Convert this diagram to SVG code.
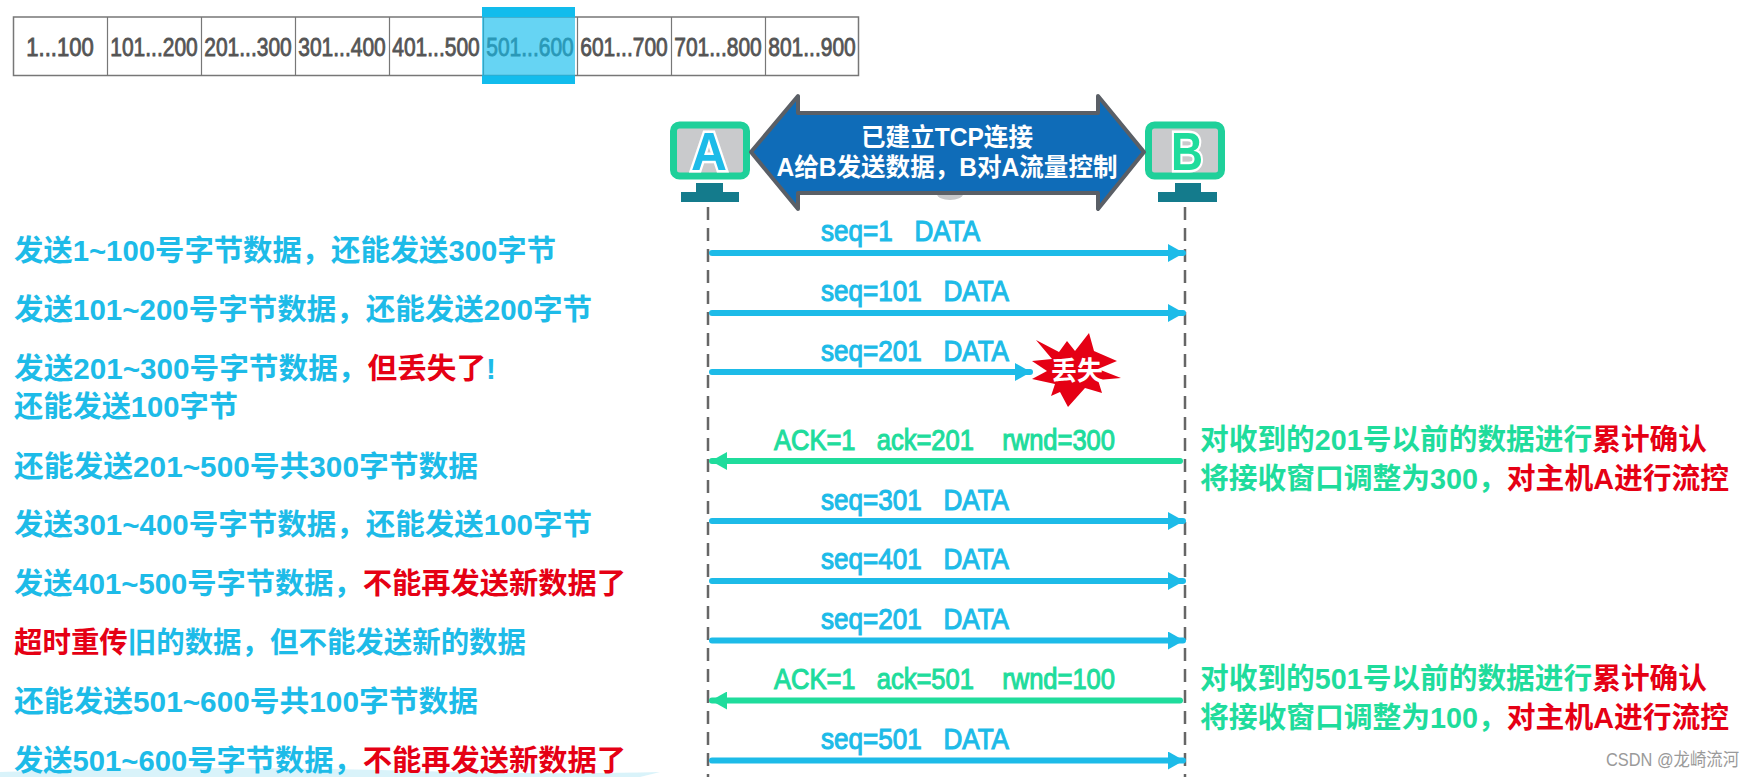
<svg xmlns="http://www.w3.org/2000/svg" width="1756" height="777" viewBox="0 0 1756 777">
<style>
text{font-family:"Liberation Sans","Noto Sans CJK SC",sans-serif;font-weight:700}
.cell{font-size:21px;font-weight:400;fill:#555;stroke:#555;stroke-width:.7px;text-anchor:middle}
.l{font-size:29px}
.b{fill:#1dbbe8}.g{fill:#1fdc9c}.r{fill:#e50014}
.lab{font-size:29px;font-weight:400}
.lab.b{stroke:#1dbbe8;stroke-width:1.1px}
.lab.g{stroke:#1fdc9c;stroke-width:1.1px}
.life{stroke:#666;stroke-width:2.5;stroke-dasharray:13 8;fill:none}
.ab{stroke:#1dbbe8;stroke-width:6;fill:none;stroke-linecap:round}
.ag{stroke:#1fdc9c;stroke-width:6;fill:none;stroke-linecap:round}
.scr{fill:#c9cacc;stroke:#1fd09a;stroke-width:7}
.base{fill:#147b8c}
</style>
<defs>
<marker id="hb" markerUnits="userSpaceOnUse" markerWidth="16" markerHeight="18" refX="15" refY="9" orient="auto"><path d="M0 0L16 9L0 18Z" fill="#1dbbe8"/></marker>
<marker id="hg" markerUnits="userSpaceOnUse" markerWidth="16" markerHeight="18" refX="15" refY="9" orient="auto"><path d="M0 0L16 9L0 18Z" fill="#1fdc9c"/></marker>
</defs>
<rect width="1756" height="777" fill="#fff"/>
<path d="M0 772Q200 765 380 770T660 772L640 777H0Z" fill="#c9eef8" opacity=".7"/>
<g id="table">
<rect x="13.500" y="17" width="845" height="58.500" fill="#fff" stroke="#777" stroke-width="1.500"/>
<path d="M107.500 17v58.500M201.500 17v58.500M295.500 17v58.500M389.500 17v58.500M483.500 17v58.500M577.500 17v58.500M671.500 17v58.500M765.500 17v58.500" stroke="#777" stroke-width="1.200"/>
<text class="cell" transform="translate(60 56) scale(1.050 1.24)">1...100</text>
<text class="cell" transform="translate(154 56) scale(1 1.24)">101...200</text>
<text class="cell" transform="translate(248 56) scale(1 1.24)">201...300</text>
<text class="cell" transform="translate(342 56) scale(1 1.24)">301...400</text>
<text class="cell" transform="translate(436 56) scale(1 1.24)">401...500</text>
<text class="cell" transform="translate(530 56) scale(1 1.24)">501...600</text>
<text class="cell" transform="translate(624 56) scale(1 1.24)">601...700</text>
<text class="cell" transform="translate(718 56) scale(1 1.24)">701...800</text>
<text class="cell" transform="translate(812 56) scale(1 1.24)">801...900</text>
<rect x="482" y="7" width="93" height="77" fill="#14bdec" opacity=".65"/>
<rect x="482" y="7" width="93" height="10" fill="#12bcec"/>
<rect x="482" y="75.500" width="93" height="8.500" fill="#12bcec"/>
</g>
<g id="hostA">
<rect class="scr" x="673.500" y="125" width="73" height="51" rx="6"/>
<path class="base" d="M696 183h27v9h16v10h-58v-10h15z"/>
<text x="709" y="170" font-size="54" text-anchor="middle" fill="#1dbbe8" stroke="#fff" stroke-width="5" paint-order="stroke" textLength="36" lengthAdjust="spacingAndGlyphs">A</text>
</g>
<g id="hostB">
<rect class="scr" x="1148.500" y="125" width="73" height="51" rx="6"/>
<path class="base" d="M1175 183h26v9h16v10h-59v-10h17z"/>
<text x="1187" y="170" font-size="54" text-anchor="middle" fill="#1fdc9c" stroke="#fff" stroke-width="5" paint-order="stroke" textLength="32" lengthAdjust="spacingAndGlyphs">B</text>
</g>
<g id="tcp">
<ellipse cx="950" cy="194" rx="13" ry="6" fill="#c9cacc"/>
<path d="M751 152L798 96V113H1098V96L1144 152L1098 209V193H798V209Z" fill="#0f6cb8" stroke="#5a5f66" stroke-width="4" stroke-linejoin="round"/>
<text x="947" y="146" font-size="25" fill="#fff" text-anchor="middle" textLength="172" lengthAdjust="spacingAndGlyphs">已建立TCP连接</text>
<text x="947" y="176" font-size="25" fill="#fff" text-anchor="middle" textLength="341" lengthAdjust="spacingAndGlyphs">A给B发送数据，B对A流量控制</text>
</g>
<g id="connectors">
<path class="life" d="M708 207V777M1185 207V777"/>
<path class="ab" d="M712 253H1183" marker-end="url(#hb)"/>
<path class="ab" d="M712 313H1183" marker-end="url(#hb)"/>
<path class="ab" d="M712 372H1030" marker-end="url(#hb)"/>
<path class="ag" d="M1180 461H712" marker-end="url(#hg)"/>
<path class="ab" d="M712 521H1183" marker-end="url(#hb)"/>
<path class="ab" d="M712 581H1183" marker-end="url(#hb)"/>
<path class="ab" d="M712 640.500H1183" marker-end="url(#hb)"/>
<path class="ag" d="M1180 700.500H712" marker-end="url(#hg)"/>
<path class="ab" d="M712 760.500H1183" marker-end="url(#hb)"/>
</g>
<g id="lost">
<path d="M1036 340L1059 352L1067 341L1075 351L1089 333L1094 351L1117 361L1098 369L1121 378L1098 380L1102 393L1085 388L1068 407L1060 392L1051 396L1055 384L1032 379L1047 371L1032 361L1052 359Z" fill="#e50014"/>
<text x="1077" y="380" font-size="26" fill="#fff" text-anchor="middle">丢失</text>
</g>
<g id="labels">
<text class="lab b" x="821" y="241" textLength="159" lengthAdjust="spacingAndGlyphs" xml:space="preserve">seq=1   DATA</text>
<text class="lab b" x="821" y="301" textLength="188" lengthAdjust="spacingAndGlyphs" xml:space="preserve">seq=101   DATA</text>
<text class="lab b" x="821" y="361" textLength="188" lengthAdjust="spacingAndGlyphs" xml:space="preserve">seq=201   DATA</text>
<text class="lab g" x="774" y="450" textLength="341" lengthAdjust="spacingAndGlyphs" xml:space="preserve">ACK=1   ack=201    rwnd=300</text>
<text class="lab b" x="821" y="510" textLength="188" lengthAdjust="spacingAndGlyphs" xml:space="preserve">seq=301   DATA</text>
<text class="lab b" x="821" y="569" textLength="188" lengthAdjust="spacingAndGlyphs" xml:space="preserve">seq=401   DATA</text>
<text class="lab b" x="821" y="629" textLength="188" lengthAdjust="spacingAndGlyphs" xml:space="preserve">seq=201   DATA</text>
<text class="lab g" x="774" y="689" textLength="341" lengthAdjust="spacingAndGlyphs" xml:space="preserve">ACK=1   ack=501    rwnd=100</text>
<text class="lab b" x="821" y="749" textLength="188" lengthAdjust="spacingAndGlyphs" xml:space="preserve">seq=501   DATA</text>
</g>
<g id="left-notes" class="l">
<text class="b" x="14" y="261" textLength="542" lengthAdjust="spacingAndGlyphs">发送1~100号字节数据，还能发送300字节</text>
<text class="b" x="14" y="320" textLength="578" lengthAdjust="spacingAndGlyphs">发送101~200号字节数据，还能发送200字节</text>
<text class="b" x="14" y="379" textLength="482" lengthAdjust="spacingAndGlyphs">发送201~300号字节数据，<tspan class="r">但丢失了</tspan>!</text>
<text class="b" x="14" y="417" textLength="224" lengthAdjust="spacingAndGlyphs">还能发送100字节</text>
<text class="b" x="14" y="477" textLength="464" lengthAdjust="spacingAndGlyphs">还能发送201~500号共300字节数据</text>
<text class="b" x="14" y="535" textLength="578" lengthAdjust="spacingAndGlyphs">发送301~400号字节数据，还能发送100字节</text>
<text class="b" x="14" y="594" textLength="612" lengthAdjust="spacingAndGlyphs">发送401~500号字节数据，<tspan class="r">不能再发送新数据了</tspan></text>
<text class="b" x="14" y="653" textLength="512" lengthAdjust="spacingAndGlyphs"><tspan class="r">超时重传</tspan>旧的数据，但不能发送新的数据</text>
<text class="b" x="14" y="712" textLength="464" lengthAdjust="spacingAndGlyphs">还能发送501~600号共100字节数据</text>
<text class="b" x="14" y="771" textLength="612" lengthAdjust="spacingAndGlyphs">发送501~600号字节数据，<tspan class="r">不能再发送新数据了</tspan></text>
</g>
<g id="right-notes" class="l">
<text class="g" x="1200" y="450" textLength="507" lengthAdjust="spacingAndGlyphs">对收到的201号以前的数据进行<tspan class="r">累计确认</tspan></text>
<text class="g" x="1200" y="489" textLength="529" lengthAdjust="spacingAndGlyphs">将接收窗口调整为300，<tspan class="r">对主机A进行流控</tspan></text>
<text class="g" x="1200" y="689" textLength="507" lengthAdjust="spacingAndGlyphs">对收到的501号以前的数据进行<tspan class="r">累计确认</tspan></text>
<text class="g" x="1200" y="728" textLength="529" lengthAdjust="spacingAndGlyphs">将接收窗口调整为100，<tspan class="r">对主机A进行流控</tspan></text>
</g>
<text transform="translate(1606 766) scale(1 1.1)" font-size="16.400" fill="#9a9a9a" style="font-weight:400">CSDN @龙崎流河</text>
</svg>
